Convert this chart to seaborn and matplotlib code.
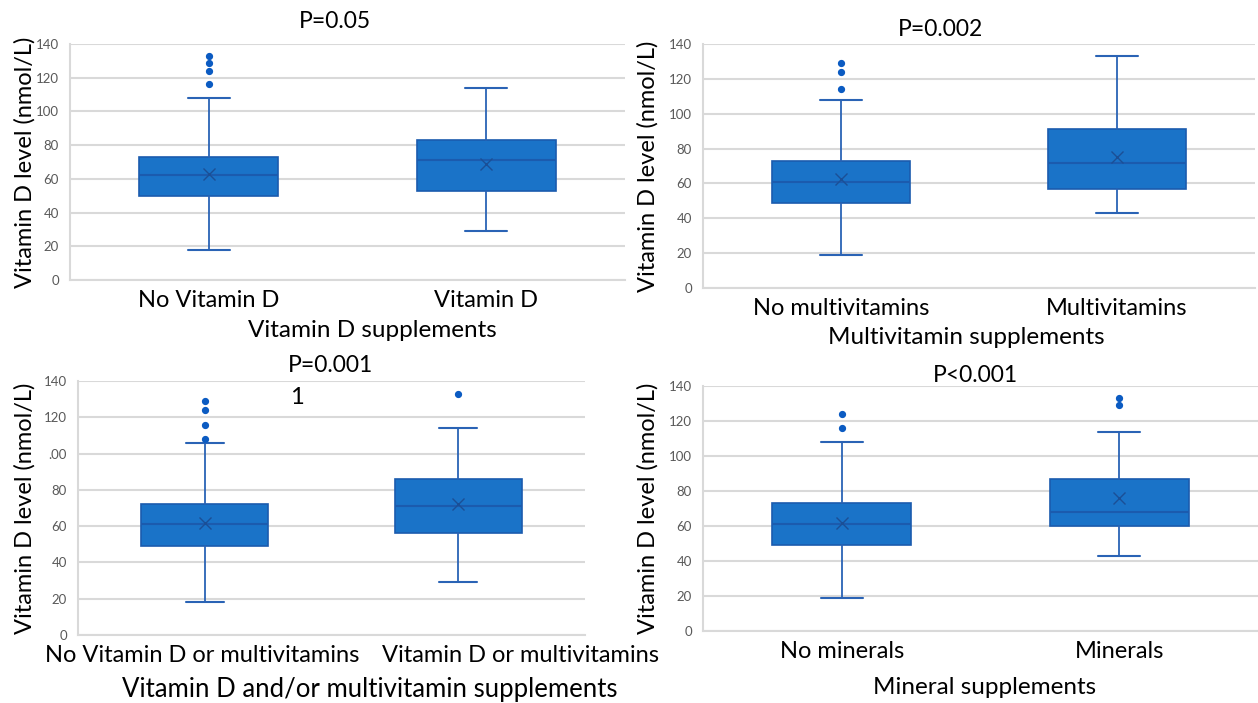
import matplotlib
matplotlib.use("Agg")
import matplotlib.pyplot as plt
import matplotlib.transforms as mtransforms
import seaborn as sns

sns.set_theme(style="whitegrid")
plt.rcParams['font.family'] = ['Lato', 'DejaVu Sans']

# ---- data ----
titles = ["P=0.05", "P=0.002", "P=0.001", "P<0.001"]
xlabels = ["Vitamin D supplements", "Multivitamin supplements",
           "Vitamin D and/or multivitamin supplements", "Mineral supplements"]
categories = [["No Vitamin D", "Vitamin D"],
              ["No multivitamins", "Multivitamins"],
              ["No Vitamin D or multivitamins", "Vitamin D or multivitamins"],
              ["No minerals", "Minerals"]]
q1 = [[50, 53], [49, 57], [49, 56], [49, 60]]
median = [[62, 71], [61, 72], [61, 71], [61, 68]]
q3 = [[73, 83], [73, 91], [72, 86], [73, 87]]
mean = [[63, 69], [62.5, 75], [62, 72], [62, 76]]
whislo = [[18, 29], [19, 43], [18, 29], [19, 43]]
whishi = [[108, 114], [108, 133], [106, 114], [108, 114]]
outliers = [[[116, 124, 129, 133], []],
            [[114, 124, 129], []],
            [[108, 116, 124, 129], [133]],
            [[116, 124], [129, 133]]]
ytick_vals = [0, 20, 40, 60, 80, 100, 120, 140]
ytick_labels_std = ["0", "20", "40", "60", "80", "100", "120", "140"]
ytick_labels_p3 = ["0", "20", "40", "60", "80", ".00", "120", "140"]

W, H = 1258, 703
fig = plt.figure(figsize=(W / 100, H / 100), dpi=100)

# axes boxes in pixels: left, right, top, bottom
boxes_px = [(70, 625, 44, 280), (703, 1255, 44, 288),
            (78, 585, 381, 635), (703, 1258, 386, 631)]
ylab_x = [25, 648, 25, 648]
title_px = [(335, 22), (940, 30), (330, 366), (975, 376)]
xlabel_px = [(372, 330), (966, 338), (370, 690), (985, 688)]
xlabel_size = [17.5, 17.5, 18.5, 17.5]
# horizontal shift (px) of category labels relative to box centres
cat_shift = [[0, 0], [0, 0], [-3, 62], [0, 0]]

FILL = "#1A73C8"
EDGE = "#1B5BAE"
LINE = "#2A63B5"
DOT = "#0B5BC2"

for i in range(4):
    l, r, t, b = boxes_px[i]
    ax = fig.add_axes([l / W, 1 - b / H, (r - l) / W, (b - t) / H])
    stats = []
    for j in range(2):
        stats.append(dict(label=categories[i][j], q1=q1[i][j], med=median[i][j],
                          q3=q3[i][j], mean=mean[i][j], whislo=whislo[i][j],
                          whishi=whishi[i][j], fliers=outliers[i][j]))
    ax.bxp(stats, positions=[0, 1], widths=0.5, capwidths=0.15,
           patch_artist=True, showmeans=True,
           boxprops=dict(facecolor=FILL, edgecolor=EDGE, linewidth=1.2),
           medianprops=dict(color=EDGE, linewidth=1.5),
           whiskerprops=dict(color=LINE, linewidth=1.3),
           capprops=dict(color=LINE, linewidth=1.5),
           flierprops=dict(marker='o', markersize=4.2, markerfacecolor=DOT,
                           markeredgecolor=DOT),
           meanprops=dict(marker='x', markersize=9, markeredgecolor="#1B4F96",
                          markeredgewidth=1.0))
    ax.set_xlim(-0.5, 1.5)
    ax.set_ylim(0, 140)
    ax.set_yticks(ytick_vals)
    ax.set_yticklabels(ytick_labels_p3 if i == 2 else ytick_labels_std)
    ax.set_facecolor("white")
    ax.grid(axis='y', color="#D9D9D9", linewidth=1.5)
    ax.grid(axis='x', visible=False)
    for s in ["top", "right"]:
        ax.spines[s].set_visible(False)
    for s in ["left", "bottom"]:
        ax.spines[s].set_color("#D9D9D9")
        ax.spines[s].set_linewidth(1.5)
    ax.tick_params(axis='y', labelsize=9.5, labelcolor="#595959", length=0, pad=8)
    ax.tick_params(axis='x', labelsize=17, labelcolor="black", length=0, pad=7)
    ax.set_xticks([0, 1])
    ax.set_xticklabels(categories[i])
    for j, lab in enumerate(ax.get_xticklabels()):
        dx = cat_shift[i][j]
        if dx:
            lab.set_transform(lab.get_transform() +
                              mtransforms.ScaledTranslation(dx / 100, 0, fig.dpi_scale_trans))
    fig.text(xlabel_px[i][0] / W, 1 - xlabel_px[i][1] / H, xlabels[i],
             ha='center', va='center', fontsize=xlabel_size[i], color="black")
    fig.text(title_px[i][0] / W, 1 - title_px[i][1] / H, titles[i],
             ha='center', va='center', fontsize=16.5, color="black")
    fig.text(ylab_x[i] / W, 1 - ((t + b) / 2) / H, "Vitamin D level (nmol/L)",
             rotation=90, ha='center', va='center', fontsize=17, color="black")
    if i == 2:
        fig.text(297 / W, 1 - 398 / H, "1", fontsize=17,
                 ha='center', va='center', color="black")

fig.savefig("out.png", dpi=100, facecolor="white")
